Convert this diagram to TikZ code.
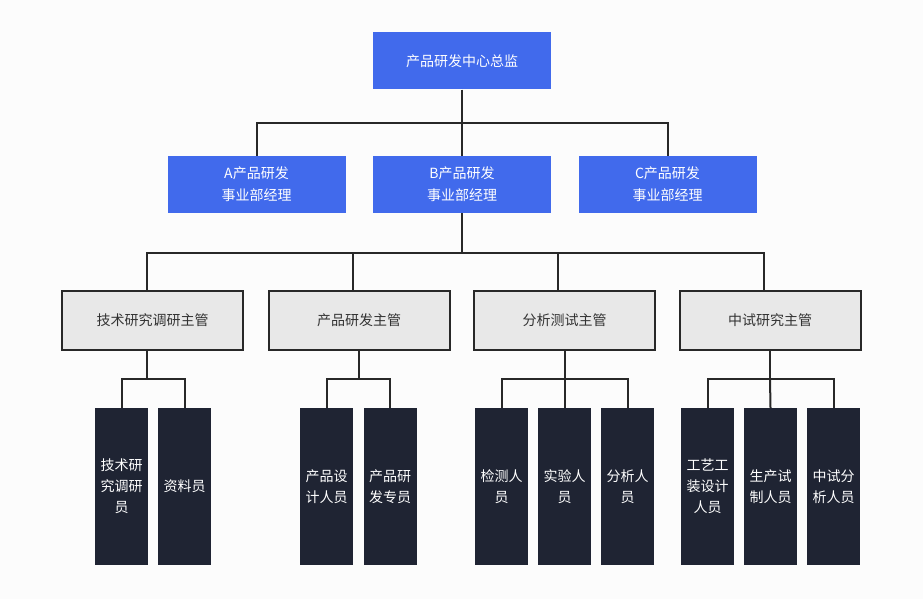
\documentclass[tikz,border=0pt]{standalone}
\usepackage{fontspec}
\setmainfont{Noto Sans CJK SC}
\usetikzlibrary{calc}
\definecolor{bluebox}{RGB}{65,106,236}
\definecolor{graybox}{RGB}{232,232,232}
\definecolor{darkbox}{RGB}{31,36,51}
\definecolor{linec}{RGB}{40,40,40}
\definecolor{bgc}{RGB}{252,252,252}
\tikzset{
  bluenode/.style={rectangle, fill=bluebox, text=white, minimum width=178pt, minimum height=57pt, align=center, inner sep=0pt, font=\fontsize{14pt}{22pt}\selectfont},
  graynode/.style={rectangle, fill=graybox, draw=linec, line width=2pt, text={rgb,255:red,50;green,50;blue,50}, minimum width=181pt, minimum height=59pt, align=center, inner sep=0pt, font=\fontsize{14pt}{21pt}\selectfont},
  darknode/.style={rectangle, fill=darkbox, text=white, minimum width=53pt, minimum height=157pt, align=center, inner sep=0pt, font=\fontsize{14pt}{21pt}\selectfont},
  conn/.style={draw=linec, line width=2pt}
}
\begin{document}
\begin{tikzpicture}[x=1pt,y=-1pt]
\fill[bgc] (0,0) rectangle (923,599);
\useasboundingbox (0,0) rectangle (923,599);
% level 1
\node[bluenode] (top) at (462,61) {产品研发中心总监};
% level 2
\node[bluenode] (A) at (256.5,184.5) {A产品研发\\事业部经理};
\node[bluenode] (B) at (462,184.5) {B产品研发\\事业部经理};
\node[bluenode] (C) at (667.5,184.5) {C产品研发\\事业部经理};
% level 3
\node[graynode] (m1) at (152.5,320.5) {技术研究调研主管};
\node[graynode] (m2) at (359,320.5) {产品研发主管};
\node[graynode] (m3) at (564.5,320.5) {分析测试主管};
\node[graynode] (m4) at (770,320.5) {中试研究主管};
% level 4
\node[darknode] (s1) at (121.5,486.5) {技术研\\究调研\\员};
\node[darknode] (s2) at (184.5,486.5) {资料员};
\node[darknode] (s3) at (326.5,486.5) {产品设\\计人员};
\node[darknode] (s4) at (390,486.5) {产品研\\发专员};
\node[darknode] (s5) at (501.5,486.5) {检测人\\员};
\node[darknode] (s6) at (564.5,486.5) {实验人\\员};
\node[darknode] (s7) at (627.5,486.5) {分析人\\员};
\node[darknode] (s8) at (707.5,486.5) {工艺工\\装设计\\人员};
\node[darknode] (s9) at (770.5,486.5) {生产试\\制人员};
\node[darknode] (s10) at (833.5,486.5) {中试分\\析人员};
% junctions
\coordinate (j1) at (462,123);
\coordinate (j2) at (462,253);
\coordinate (g1) at (147,379);
\coordinate (g2) at (359,379);
\coordinate (g3) at (564.5,379);
\coordinate (g4) at (770,379);
% connectors
\draw[conn] (top.south) -- (j1);
\draw[conn] (j1) -| (A.north);
\draw[conn] (j1) -- (B.north);
\draw[conn] (j1) -| (C.north);
\draw[conn] (B.south) -- (j2);
\draw[conn] (j2) -| ([xshift=-5.5pt]m1.north);
\draw[conn] (j2) -| ([xshift=-6.5pt]m2.north);
\draw[conn] (j2) -| ([xshift=-6.5pt]m3.north);
\draw[conn] (j2) -| ([xshift=-6pt]m4.north);
\draw[conn] ([xshift=-5.5pt]m1.south) -- (g1);
\draw[conn] (g1) -| (s1.north);
\draw[conn] (g1) -| (s2.north);
\draw[conn] (m2.south) -- (g2);
\draw[conn] (g2) -| (s3.north);
\draw[conn] (g2) -| (s4.north);
\draw[conn] (m3.south) -- (g3);
\draw[conn] (g3) -| (s5.north);
\draw[conn] (g3) -- (s6.north);
\draw[conn] (g3) -| (s7.north);
\draw[conn] (m4.south) -- (g4);
\draw[conn] (g4) -| (s8.north);
\draw[conn] (g4) -- (s9.north);
\draw[conn] (g4) -| (s10.north);
\end{tikzpicture}
\end{document}
